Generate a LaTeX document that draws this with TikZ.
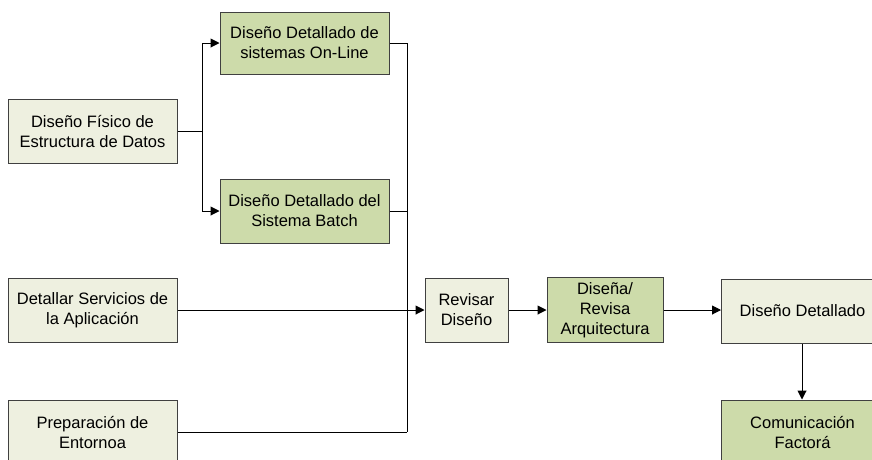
\documentclass[tikz,border=0pt]{standalone}
\usepackage{fontspec}
\setmainfont{Liberation Sans}
\usetikzlibrary{arrows.meta}
\definecolor{paleFill}{RGB}{238,240,224}
\definecolor{greenFill}{RGB}{205,219,170}
\definecolor{edgeGray}{RGB}{64,64,64}
\tikzset{
  task/.style={draw=edgeGray, line width=1pt, inner sep=0pt, align=center,
    font=\fontsize{16.5}{20}\selectfont},
  pale/.style={task, fill=paleFill},
  green/.style={task, fill=greenFill},
  link/.style={draw=black, line width=1pt},
  tip/.style={link, -{Triangle[length=9pt,width=9pt]}}
}
% text block for the boxes that run past the right margin
\newcommand{\edgebox}[1]{\parbox{162pt}{\centering #1}\hspace{80pt}}
\begin{document}
\begin{tikzpicture}[x=1pt,y=-1pt]
\useasboundingbox (0,0) rectangle (872,459);
% left column of tasks
\node[pale, minimum width=169pt, minimum height=64pt] (fisico) at (92.5,131) {Diseño Físico de\\Estructura de Datos};
\node[pale, minimum width=169pt, minimum height=64pt] (servicios) at (92.5,310) {Detallar Servicios de\\la Aplicación};
\node[pale, minimum width=169pt, minimum height=64pt] (entorno) at (92.5,432) {Preparación de\\Entornoa};
% detailed design of the two subsystems
\node[green, minimum width=169pt, minimum height=62pt] (online) at (304.5,43) {Diseño Detallado de\\sistemas On-Line};
\node[green, minimum width=169pt, minimum height=64pt] (batch) at (304.5,211) {Diseño Detallado del\\Sistema Batch};
% main chain
\node[pale, minimum width=83pt, minimum height=64pt] (revisar) at (466.5,310) {Revisar\\Diseño};
\node[green, minimum width=116pt, minimum height=65pt] (arq) at (605,310) {Diseña/\\Revisa\\Arquitectura};
\node[pale, anchor=west, minimum height=64pt] (detallado) at (721,311) {\edgebox{Diseño Detallado}};
\node[green, anchor=west, minimum height=64pt] (comunica) at (721,432) {\edgebox{Comunicación\\Factorá}};
% junction points
\coordinate (split) at (202,131);
\coordinate (busTop) at (407,43);
\coordinate (busMid) at (407,211);
\coordinate (busBot) at (407,432);
% branching from the physical design
\draw[link] (fisico.east) -- (split);
\draw[tip] (split) |- (online.west);
\draw[tip] (split) |- (batch.west);
% collecting bus into the review
\draw[link] (online.east) -- (busTop) -- (busBot);
\draw[link] (batch.east) -- (busMid);
\draw[link] (entorno.east) -- (busBot);
\draw[tip] (servicios.east) -- (revisar.west);
\draw[tip] (revisar.east) -- (arq.west);
\draw[tip] (arq.east) -- (detallado.west |- arq.east);
\draw[tip] ([xshift=81pt]detallado.south west) -- ([xshift=81pt]comunica.north west);
\end{tikzpicture}
\end{document}
